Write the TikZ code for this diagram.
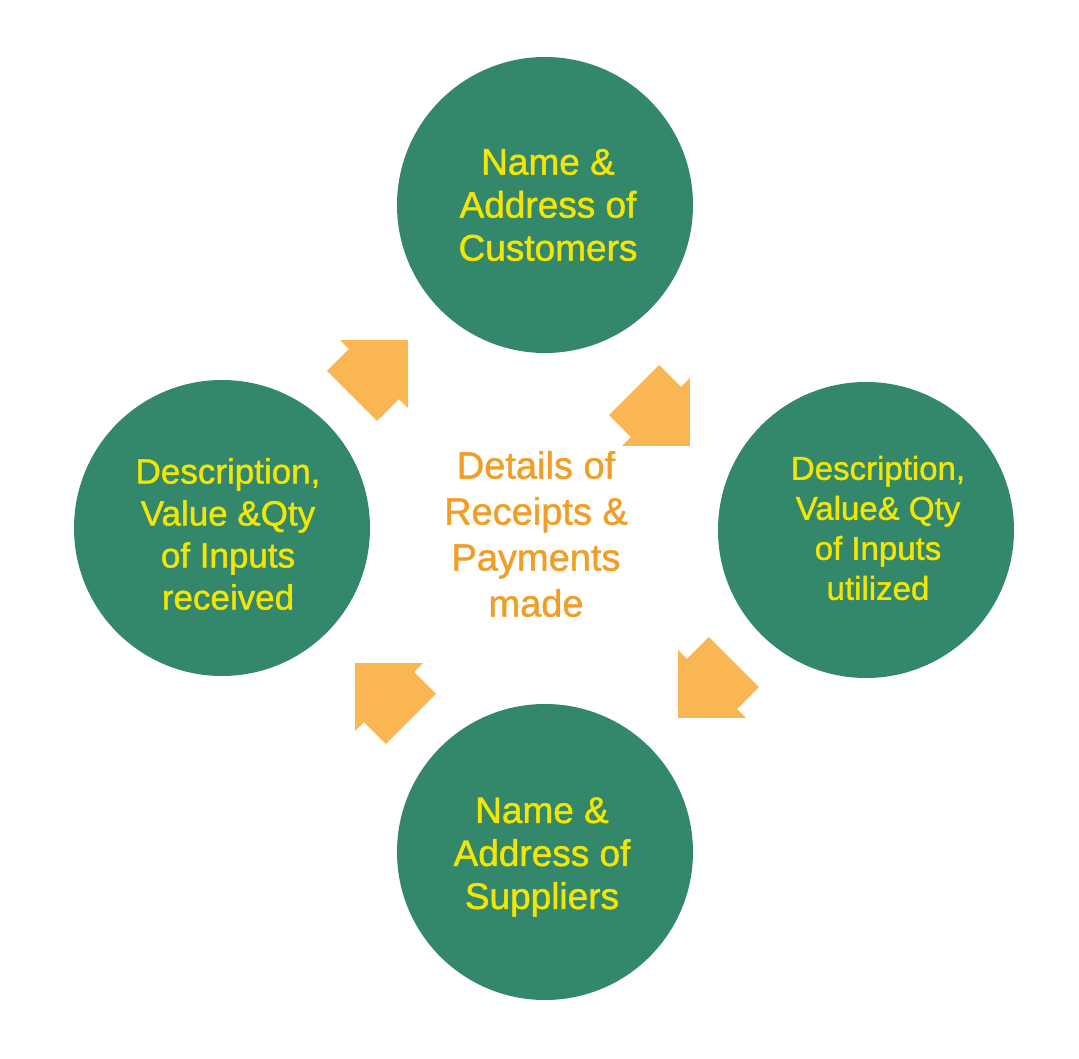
\documentclass[tikz,border=0pt]{standalone}
\usepackage{fontspec}
\setmainfont{Liberation Sans}[UprightFeatures={FakeBold=1.2}]
\begin{document}
\begin{tikzpicture}[yscale=-1, x=1pt, y=1pt, line join=round, line cap=round]
% Color definitions
\definecolor{bubblegreen}{RGB}{51,135,106}
\definecolor{bubbleyellow}{RGB}{244,230,0}
\definecolor{midorange}{RGB}{240,158,40}
\definecolor{arroworange}{RGB}{250,182,82}
% End of color definitions
\tikzset{
  bubble/.style={circle, fill=bubblegreen, minimum size=296pt, inner sep=0pt},
  bubbletext/.style={align=center, text=bubbleyellow, inner sep=0pt},
  arrowblock/.style={fill=arroworange}
}
\useasboundingbox (0,0) rectangle (1079,1059);
% Circles
\node[bubble] (cust) at (545,205) {};
\node[bubble] (util) at (866,530) {};
\node[bubble] (supp) at (545,852) {};
\node[bubble] (recv) at (222,528) {};
% Texts
\node[bubbletext, font=\fontsize{37}{43}\selectfont] (custtext) at (548,205) {Name \&\\Address of\\Customers};
\node[bubbletext, font=\fontsize{33}{40}\selectfont] (utiltext) at (878,528) {Description,\\Value\& Qty\\of Inputs\\utilized};
\node[bubbletext, font=\fontsize{37}{43}\selectfont] (supptext) at (542,857) {Name \&\\Address of\\Suppliers};
\node[bubbletext, font=\fontsize{35}{42}\selectfont] (recvtext) at (228,534) {Description,\\Value \&Qty\\of Inputs\\received};
\node[align=center, text=midorange, inner sep=0pt, font=\fontsize{38}{46}\selectfont] (details) at (536,534) {Details of\\Receipts \&\\Payments\\made};
% Block arrows, drawn pointing along +x then turned
\foreach \px/\py/\ang in {380/368/-45, 662/418/45, 706/690/135, 383/691/-135}
  \fill[arrowblock, shift={(\px,\py)}, rotate=\ang]
    (39.5,0) -- (-8.5,-48) -- (-8.5,-35.5) -- (-39.5,-35.5)
    -- (-39.5,35.5) -- (-8.5,35.5) -- (-8.5,48) -- cycle;
\end{tikzpicture}
\end{document}
